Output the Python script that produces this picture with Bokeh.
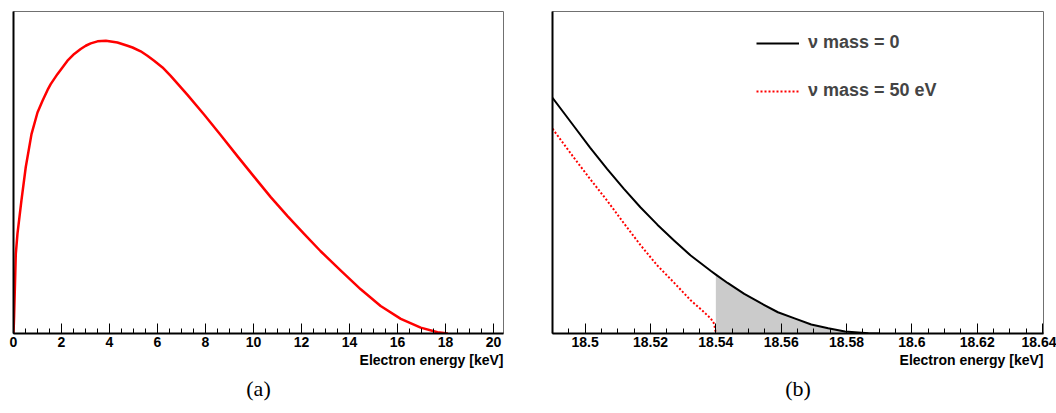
import numpy as np
from bokeh.plotting import figure
from bokeh.layouts import row
from bokeh.models import Range1d, FixedTicker, SingleIntervalTicker, Title, Legend, LegendItem
from bokeh.embed import file_html
from bokeh.resources import INLINE

# ---------------- data ----------------
# (a) full tritium beta spectrum, arbitrary units (peak = 1)
energy_a = [0.0, 0.026, 0.096, 0.165, 0.33, 0.51, 0.75, 1.0, 1.21, 1.42, 1.55, 1.83,
            2.04, 2.25, 2.53, 2.8, 3.01, 3.22, 3.5, 3.85, 4.33, 4.75, 4.96, 5.3,
            5.58, 5.86, 6.21, 6.55, 7.25, 7.94, 8.64, 9.33, 10.03, 10.72, 11.42,
            12.11, 12.8, 13.64, 14.47, 15.30, 16.14, 16.97, 17.67, 18.1]
counts_a = [0.0, 0.061, 0.272, 0.340, 0.454, 0.568, 0.681, 0.755, 0.795, 0.832, 0.852, 0.886,
            0.909, 0.932, 0.955, 0.972, 0.983, 0.991, 0.998, 1.0, 0.994, 0.983, 0.977, 0.964,
            0.949, 0.932, 0.909, 0.880, 0.815, 0.748, 0.677, 0.606, 0.535, 0.466, 0.401,
            0.340, 0.281, 0.215, 0.151, 0.094, 0.050, 0.020, 0.0045, 0.0]

# (b) endpoint region, nu mass = 0
energy_m0 = [18.49, 18.4964, 18.5015, 18.5067, 18.5118, 18.5169, 18.5221, 18.5272,
             18.5323, 18.5385, 18.54, 18.5436, 18.5487, 18.5538, 18.559, 18.5641,
             18.5692, 18.5744, 18.5795, 18.5867, 18.59]
counts_m0 = [0.732, 0.646, 0.577, 0.511, 0.450, 0.392, 0.338, 0.289,
             0.242, 0.194, 0.183, 0.157, 0.123, 0.094, 0.066, 0.047,
             0.028, 0.016, 0.006, 0.001, 0.0]

# (b) endpoint region, nu mass = 50 eV
energy_m50 = [18.49, 18.4964, 18.5015, 18.5067, 18.5118, 18.5169, 18.5221, 18.5272,
              18.5323, 18.536, 18.5385, 18.5395, 18.54]
counts_m50 = [0.636, 0.548, 0.480, 0.413, 0.343, 0.275, 0.211, 0.158,
              0.103, 0.070, 0.046, 0.030, 0.0]

fill_start = 18.54

ticks_b = [18.5, 18.52, 18.54, 18.56, 18.58, 18.6, 18.62, 18.64]
tick_labels_b = ["18.5", "18.52", "18.54", "18.56", "18.58", "18.6", "18.62", "18.64"]

legend_labels = ["\u03bd mass = 0", "\u03bd mass = 50 eV"]
axis_title = "Electron energy [keV]"
captions = ["(a)", "(b)"]

FONT = "Liberation Sans"
SERIF = "Liberation Serif"


def style(p):
    p.grid.visible = False
    p.outline_line_color = "#707070"
    p.outline_line_width = 1
    p.background_fill_color = "white"
    p.border_fill_color = "white"
    ax = p.xaxis[0]
    ax.axis_line_width = 2
    ax.axis_line_color = "black"
    ax.major_tick_in = 10
    ax.major_tick_out = 0
    ax.minor_tick_in = 5
    ax.minor_tick_out = 0
    ax.major_tick_line_color = "black"
    ax.minor_tick_line_color = "black"
    ax.major_tick_line_width = 1
    ax.minor_tick_line_width = 1
    ax.major_label_text_font = FONT
    ax.major_label_text_font_style = "bold"
    ax.major_label_text_font_size = "14px"
    ax.major_label_text_color = "black"
    ax.major_label_standoff = 3
    ay = p.yaxis[0]
    ay.ticker = FixedTicker(ticks=[])
    ay.major_label_text_font_size = "0px"
    ay.major_tick_out = 0
    ay.minor_tick_out = 0
    ay.axis_line_width = 2
    ay.axis_line_color = "black"


def add_titles(p, caption):
    t = Title(text=axis_title, align="right", text_font=FONT, text_font_style="bold",
              text_font_size="14px", standoff=0, text_color="black")
    p.add_layout(t, "below")
    c = Title(text=caption, align="center", text_font=SERIF, text_font_style="normal",
              text_font_size="22px", standoff=12, text_color="black")
    p.add_layout(c, "below")


# ---------------- panel (a) ----------------
p1 = figure(width=530, height=413, output_backend="svg", toolbar_location=None,
            x_range=Range1d(0, 20.42), y_range=Range1d(0, 1.1),
            min_border_left=13, min_border_right=27, min_border_top=11, min_border_bottom=80)
p1.line(energy_a, counts_a, line_color="red", line_width=2.5, line_join="round")
style(p1)
p1.xaxis[0].ticker = SingleIntervalTicker(interval=2, num_minor_ticks=4)
add_titles(p1, captions[0])

# ---------------- panel (b) ----------------
p2 = figure(width=526, height=413, output_backend="svg", toolbar_location=None,
            x_range=Range1d(18.49, 18.6403), y_range=Range1d(0, 1.0),
            min_border_left=22, min_border_right=13, min_border_top=11, min_border_bottom=80)
fe = [e for e in energy_m0 if e >= fill_start]
fc = [c for e, c in zip(energy_m0, counts_m0) if e >= fill_start]
p2.varea(x=fe, y1=0, y2=fc, fill_color="#cbcbcb")
r_red = p2.line(energy_m50, counts_m50, line_color="red", line_width=2, line_dash="2 2")
r_blk = p2.line(energy_m0, counts_m0, line_color="black", line_width=2, line_join="round")
style(p2)
minor_b = list(np.round(np.arange(18.49, 18.6405, 0.005), 3))
p2.xaxis[0].ticker = FixedTicker(ticks=ticks_b, minor_ticks=minor_b)
p2.xaxis[0].major_label_overrides = dict(zip(ticks_b, tick_labels_b))
add_titles(p2, captions[1])

legend = Legend(items=[LegendItem(label=legend_labels[0], renderers=[r_blk]),
                       LegendItem(label=legend_labels[1], renderers=[r_red])],
                location=(204, 232))
legend.background_fill_alpha = 0
legend.border_line_color = None
legend.padding = 0
legend.margin = 0
legend.spacing = 27
legend.glyph_width = 43
legend.glyph_height = 20
legend.label_height = 20
legend.label_standoff = 9
legend.label_text_font = FONT
legend.label_text_font_style = "bold"
legend.label_text_font_size = "18px"
p2.add_layout(legend)

layout = row(p1, p2)
open("out.html", "w").write(file_html(layout, INLINE))
